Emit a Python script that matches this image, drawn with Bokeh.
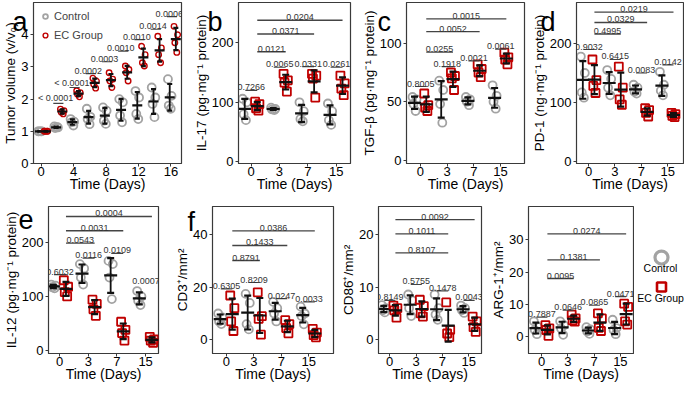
import numpy as np
from bokeh.plotting import figure
from bokeh.models import Range1d, FixedTicker, Legend, LegendItem, GridBox
from bokeh.layouts import row, column
from bokeh.embed import file_html
from bokeh.resources import INLINE
from bokeh.core.properties import value

FONT = "Liberation Sans"
GRAY = "#a3a3a3"
RED = "#c00000"
INK = "#111111"
FRAME = "#3a3a3a"
PTXT = "#333333"

# ---------------- data ----------------
# panel a: tumour volume
a_days = [0, 2, 4, 6, 8, 10, 12, 14, 16]
a_control = [[1.0, 1.0, 1.0, 1.0], [1.15, 1.12, 1.10, 1.13], [1.38, 1.30, 1.28, 1.18],
             [1.70, 1.45, 1.38, 1.22], [1.74, 1.64, 1.33, 1.23], [2.00, 1.90, 1.49, 1.28],
             [2.25, 2.05, 1.54, 1.38], [2.36, 2.05, 1.85, 1.44], [2.62, 2.10, 1.80, 1.70]]
a_ec = [[1.0, 1.0, 1.0, 1.0], [1.69, 1.64, 1.59, 1.54], [2.26, 2.20, 2.15, 2.07],
        [2.65, 2.56, 2.46, 2.34], [2.82, 2.62, 2.56, 2.36], [3.03, 2.92, 2.82, 2.56],
        [3.64, 3.38, 3.13, 3.03], [3.95, 3.59, 3.38, 3.13], [4.26, 4.00, 3.75, 3.45]]
a_p_days = [2, 4, 6, 8, 10, 12, 14, 16]
a_p_text = ["< 0.0001", "< 0.0001", "0.0002", "0.0003", "0.0010", "0.0010", "0.0014", "0.0006"]
a_p_y = [1.87, 2.36, 2.79, 3.16, 3.49, 3.85, 4.17, 4.56]

days = ["0", "3", "7", "15"]

# panel b: IL-17
il17_control = [[106, 100, 80, 70], [91, 89, 88, 87], [100, 85, 72, 68], [98, 85, 70, 62]]
il17_ec = [[101, 97, 90, 86], [148, 137, 133, 118], [148, 145, 140, 108], [145, 132, 123, 112]]
il17_pair_text = ["0.7266", "0.0065", "0.0331", "0.0261"]
il17_pair_y = [120, 159, 160, 159]
il17_long_text = ["0.0121", "0.0371", "0.0204"]
il17_long_y = [185, 215, 238]
il17_long_end = [1, 2, 3]

# panel c: TGF-beta
tgf_control = [[54, 52, 48, 42], [68, 60, 48, 32], [54, 52, 50, 47], [64, 55, 50, 44]]
tgf_ec = [[57, 47, 45, 42], [75, 72, 70, 60], [82, 78, 75, 71], [92, 88, 86, 82]]
tgf_pair_text = ["0.8005", "0.1918", "0.0021", "0.0061"]
tgf_pair_y = [63, 80, 85, 95]
tgf_long_text = ["0.0255", "0.0052", "0.0015"]
tgf_long_y = [92.5, 110, 121]
tgf_long_end = [1, 2, 3]

# panel d: PD-1
pd1_control = [[178, 150, 117, 108], [155, 140, 125, 112], [130, 125, 118, 115], [152, 130, 120, 112]]
pd1_ec = [[173, 138, 128, 116], [161, 125, 105, 96], [90, 87, 82, 76], [82, 80, 77, 75]]
pd1_pair_text = ["0.9032", "0.6415", "0.0083", "0.0142"]
pd1_pair_y = [190, 173, 150, 164]
pd1_long_text = ["0.4995", "0.0329", "0.0219"]
pd1_long_y = [216.5, 236, 253.6]
pd1_long_end = [1, 2, 3]

# panel e: IL-12
il12_control = [[122, 120, 117, 115], [160, 152, 135, 122], [166, 160, 135, 95], [110, 100, 92, 84]]
il12_ec = [[130, 118, 108, 100], [94, 86, 76, 64], [53, 38, 32, 18], [25, 20, 18, 14]]
il12_pair_text = ["0.6032", "0.0116", "0.0109", "0.0007"]
il12_pair_y = [140.6, 171, 180, 124]
il12_pair_line = [True, True, True, False]
il12_long_text = ["0.0543", "0.0031", "0.0004"]
il12_long_y = [199, 222, 248.5]
il12_long_end = [1, 2, 3]

# panel f: CD3+, CD86+, ARG-1+
cd3_control = [[10, 8.5, 7, 6], [17.4, 14, 6, 4], [14.4, 12, 10, 7], [12.6, 10, 9, 5.9]]
cd3_ec = [[16.8, 12, 7, 3.4], [18, 9, 8, 2], [7.5, 6, 4.5, 2.5], [4.2, 2.8, 1.8, 1]]
cd3_pair_text = ["0.6305", "0.8209", "0.0247", "0.0033"]
cd3_pair_y = [19.3, 21.7, 15.6, 14.4]
cd3_long_text = ["0.8791", "0.1433", "0.0386"]
cd3_long_y = [30, 35.7, 41.2]
cd3_long_end = [1, 2, 3]

cd86_control = [[6.6, 6, 5.6, 5.2], [8.6, 7.5, 6, 4.5], [8.6, 6, 4.8, 3.8], [6.5, 6, 5.6, 5.1]]
cd86_ec = [[6.5, 6, 5.6, 4.2], [7.6, 6.4, 5, 4.4], [7.1, 1.9, 1.2, 0.5], [4.4, 3.5, 2.4, 1.5]]
cd86_pair_text = ["0.8149", "0.5755", "0.1478", "0.0043"]
cd86_pair_y = [7.5, 10.5, 9.3, 7.5]
cd86_long_text = ["0.8107", "0.1011", "0.0092"]
cd86_long_y = [16.5, 20.1, 22.8]
cd86_long_end = [2, 2, 3]

arg1_control = [[4.7, 3, 2, 0.7], [4.7, 3.5, 2.5, 0.5], [2.9, 2.2, 1.5, 0.8], [5.2, 2.6, 2, 0.7]]
arg1_ec = [[3.5, 2.5, 2, 0.2], [6.8, 5.6, 5, 4.6], [7.2, 5.6, 2.7, 1.7], [10.2, 9.2, 4.7, 3.7]]
arg1_pair_text = ["0.7887", "0.0646", "0.0865", "0.0471"]
arg1_pair_y = [6, 8.2, 9.7, 12.4]
arg1_long_text = ["0.0095", "0.1381", "0.0274"]
arg1_long_y = [18, 23.8, 31.9]
arg1_long_end = [1, 2, 3]

panel_letters = ["a", "b", "c", "d", "e", "f"]

JIT = [-1.0, 1.0, -0.55, 0.55, 0.0]


# ---------------- helpers ----------------
def base_fig(g, xticks, xlabels, yticks, ylabel):
    w, h, bl, br, bt, bb, xr, yr = g
    p = figure(width=w, height=h, x_range=Range1d(*xr), y_range=Range1d(*yr),
               output_backend="svg", toolbar_location=None, title=None,
               min_border_left=bl, min_border_right=br, min_border_top=bt, min_border_bottom=bb)
    p.xgrid.visible = False
    p.ygrid.visible = False
    p.xaxis.ticker = FixedTicker(ticks=xticks)
    p.xaxis.major_label_overrides = {t: l for t, l in zip(xticks, xlabels)}
    p.yaxis.ticker = FixedTicker(ticks=yticks)
    p.axis.minor_tick_line_color = None
    p.axis.major_tick_out = 3
    p.axis.major_tick_in = 0
    p.axis.axis_line_color = FRAME
    p.axis.major_tick_line_color = FRAME
    p.axis.major_label_text_font = FONT
    p.axis.major_label_text_font_size = "13px"
    p.axis.major_label_text_color = "black"
    p.axis.axis_label_text_font = FONT
    p.axis.axis_label_text_font_style = "normal"
    p.axis.axis_label_text_color = "black"
    p.xaxis.major_label_standoff = 0
    p.yaxis.major_label_standoff = 2
    p.xaxis.axis_label = "Time (Days)"
    p.xaxis.axis_label_text_font_size = "14px"
    p.xaxis.axis_label_standoff = -3
    p.yaxis.axis_label = ylabel
    p.yaxis.axis_label_text_font_size = "13.5px"
    p.yaxis.axis_label_standoff = 0
    p.outline_line_color = FRAME
    p.outline_line_width = 1.2
    p.outline_line_alpha = 1
    p.background_fill_color = "white"
    p.border_fill_color = "white"
    return p


def points_and_bars(p, centers, groups, jit_w, marker, color, size, lw, mean_size, cap_size):
    xs, ys = [], []
    for c, g in zip(centers, groups):
        for k, v in enumerate(g):
            xs.append(c + JIT[k % len(JIT)] * jit_w)
            ys.append(v)
    r = p.scatter(x=xs, y=ys, marker=marker, size=size, fill_color=None,
                  line_color=color, line_width=lw)
    m = np.array([np.mean(g) for g in groups])
    s = np.array([np.std(g, ddof=1) for g in groups])
    cx = list(centers)
    p.segment(x0=cx, y0=list(m - s), x1=cx, y1=list(m + s), line_color=INK, line_width=1.8)
    p.scatter(x=cx + cx, y=list(m - s) + list(m + s), marker="dash", size=cap_size,
              line_color=INK, line_width=2.2)
    p.scatter(x=cx, y=list(m), marker="dash", size=mean_size, line_color=INK, line_width=2.2)
    return r


def ptext(p, xs, ys, texts):
    p.text(x=xs, y=ys, text=texts, text_font=value(FONT), text_font_size="9px",
           text_color=PTXT, text_align="center", text_baseline="bottom")


def cat_panel(g, yticks, control, ec, pair_text, pair_y, long_text, long_y, long_end,
              ylabel, pair_line=None):
    p = base_fig(g, [0, 1, 2, 3], days, yticks, ylabel)
    idx = np.arange(len(days))
    points_and_bars(p, idx - 0.22, control, 0.075, "circle", GRAY, 8, 1.8, 13, 7)
    points_and_bars(p, idx + 0.22, ec, 0.075, "square", RED, 8, 1.8, 13, 7)
    if pair_line is None:
        pair_line = [True] * len(pair_y)
    lx0 = [i - 0.2 for i, s in zip(idx, pair_line) if s]
    lx1 = [i + 0.22 for i, s in zip(idx, pair_line) if s]
    ly = [y for y, s in zip(pair_y, pair_line) if s]
    p.segment(x0=lx0, y0=ly, x1=lx1, y1=ly, line_color="#444444", line_width=1.2)
    ptext(p, list(idx + 0.01), pair_y, pair_text)
    x0 = [0.22] * len(long_y)
    x1 = [e + 0.22 for e in long_end]
    p.segment(x0=x0, y0=long_y, x1=x1, y1=long_y, line_color="#444444", line_width=1.4)
    ptext(p, [(a + b) / 2 for a, b in zip(x0, x1)], long_y, long_text)
    return p


# ---------------- top row ----------------
TH, TBT, TBB = 195, 2, 32

ga = (190, TH, 29, 9, TBT, TBB, (-0.94, 17.3), (0, 5.0))
pa = base_fig(ga, [0, 4, 8, 12, 16], ["0", "4", "8", "12", "16"], [0, 1, 2, 3, 4],
              "Tumor volume (v/v\u2080)")
ad = np.array(a_days, dtype=float)
rc = points_and_bars(pa, ad - 0.15, a_control, 0.22, "circle", GRAY, 8, 1.8, 10, 5)
re = points_and_bars(pa, ad + 0.6, a_ec, 0.22, "circle", RED, 5.5, 1.4, 10, 5)
pd_ = np.array(a_p_days, dtype=float)
pa.segment(x0=list(pd_ - 0.5), y0=a_p_y, x1=list(pd_ + 0.75), y1=a_p_y,
           line_color="#444444", line_width=1.2)
ptext(pa, list(pd_ - 0.2), a_p_y, a_p_text)
leg = Legend(items=[LegendItem(label="Control", renderers=[rc]),
                    LegendItem(label="EC Group", renderers=[re])],
             location="top_left", margin=2, padding=4, spacing=3, glyph_width=12,
             glyph_height=16, label_height=16, label_standoff=3,
             label_text_font=FONT, label_text_font_size="11px",
             background_fill_alpha=0, border_line_alpha=0)
pa.add_layout(leg)

pb = cat_panel((168, TH, 44, 8, TBT, TBB, (-0.44, 3.5), (-3, 268)), [0, 100, 200],
               il17_control, il17_ec, il17_pair_text, il17_pair_y,
               il17_long_text, il17_long_y, il17_long_end,
               "IL-17 (pg\u00b7mg\u207b\u00b9 protein)")
pc = cat_panel((170, TH, 44, 4, TBT, TBB, (-0.52, 3.9), (-3, 135)), [0, 50, 100],
               tgf_control, tgf_ec, tgf_pair_text, tgf_pair_y,
               tgf_long_text, tgf_long_y, tgf_long_end,
               "TGF-\u03b2 (pg\u00b7mg\u207b\u00b9 protein)")
pdd = cat_panel((156, TH, 44, 1, TBT, TBB, (-0.46, 3.6), (-4, 270)), [0, 100, 200],
                pd1_control, pd1_ec, pd1_pair_text, pd1_pair_y,
                pd1_long_text, pd1_long_y, pd1_long_end,
                "PD-1 (ng\u00b7mg\u207b\u00b9 protein)")

# ---------------- bottom row ----------------
BH, BBT, BBB = 190, 11, 32
pe = cat_panel((172, BH, 44, 14, BBT, BBB, (-0.39, 3.45), (-6, 267)), [0, 100, 200],
               il12_control, il12_ec, il12_pair_text, il12_pair_y,
               il12_long_text, il12_long_y, il12_long_end,
               "IL-12 (pg\u00b7mg\u207b\u00b9 protein)", pair_line=il12_pair_line)
pf1 = cat_panel((166, BH, 37, 5, BBT, BBB, (-0.5, 3.9), (-5.1, 50.4)), [0, 20, 40],
                cd3_control, cd3_ec, cd3_pair_text, cd3_pair_y,
                cd3_long_text, cd3_long_y, cd3_long_end,
                "CD3\u207a/mm\u00b2")
pf2 = cat_panel((150, BH, 37, 7, BBT, BBB, (-0.42, 3.48), (-2.6, 25.3)), [0, 10, 20],
                cd86_control, cd86_ec, cd86_pair_text, cd86_pair_y,
                cd86_long_text, cd86_long_y, cd86_long_end,
                "CD86\u207a/mm\u00b2")
pf3 = cat_panel((146, BH, 37, 1, BBT, BBB, (-0.5, 3.5), (-5.3, 40.4)), [0, 10, 20, 30],
                arg1_control, arg1_ec, arg1_pair_text, arg1_pair_y,
                arg1_long_text, arg1_long_y, arg1_long_end,
                "ARG-1\u207a/mm\u00b2")

# side legend
pl = figure(width=50, height=BH, x_range=Range1d(0, 50), y_range=Range1d(BH, 0),
            output_backend="svg", toolbar_location=None, title=None,
            x_axis_location=None, y_axis_location=None,
            min_border_left=0, min_border_right=0, min_border_top=0, min_border_bottom=0)
pl.grid.visible = False
pl.outline_line_color = None
pl.background_fill_color = "white"
pl.border_fill_color = "white"
pl.scatter(x=[27], y=[66], marker="circle", size=13, fill_color=None, line_color=GRAY, line_width=3.2)
pl.scatter(x=[27], y=[104], marker="square", size=9, fill_color=None, line_color=RED, line_width=2.6)
pl.text(x=[26, 26], y=[79, 118], text=["Control", "EC Group"], text_font=value(FONT),
        text_font_size="10.5px", text_color="black", text_align="center", text_baseline="middle")

panels = column(row(pa, pb, pc, pdd), row(pe, pf1, pf2, pf3, pl))

# transparent overlay (same grid cell) carrying the panel letters
W, H = 684, TH + BH
ov = figure(width=W, height=H, x_range=Range1d(0, W), y_range=Range1d(H, 0),
            output_backend="svg", toolbar_location=None, title=None,
            x_axis_location=None, y_axis_location=None,
            min_border_left=0, min_border_right=0, min_border_top=0, min_border_bottom=0)
ov.grid.visible = False
ov.outline_line_color = None
ov.background_fill_color = None
ov.border_fill_color = None
ov.text(x=[12, 207, 377, 540, 18, 187], y=[21, 21, 21, 21, TH + 24, TH + 26],
        text=panel_letters, text_font=value(FONT), text_font_size="27px",
        text_color="black", text_align="left", text_baseline="alphabetic")

layout = GridBox(children=[(panels, 0, 0), (ov, 0, 0)], spacing=0)

with open("out.html", "w") as f:
    f.write(file_html(layout, INLINE))
